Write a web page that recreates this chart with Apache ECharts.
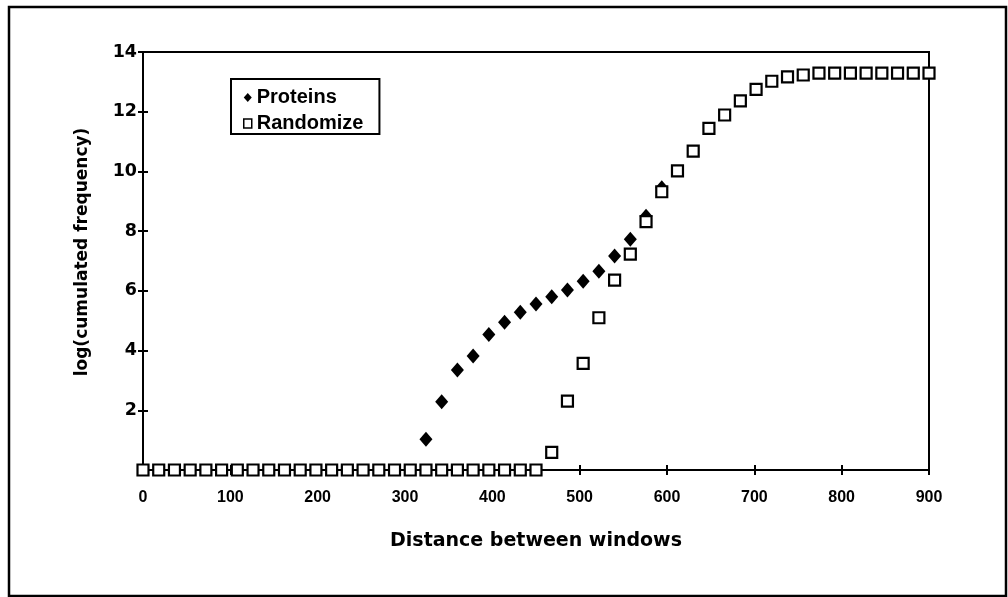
<!DOCTYPE html>
<html>
<head>
<meta charset="utf-8">
<script src="https://cdn.jsdelivr.net/npm/echarts@6/dist/echarts.min.js"></script>
<style>
html,body{margin:0;padding:0;background:#fff;}
#chart{width:1008px;height:597px;}
</style>
</head>
<body>
<div id="chart"></div>
<script>
// ---- data ----
var proteinsX = [324, 342, 360, 378, 396, 414, 432, 450, 468, 486, 504, 522, 540, 558, 576, 594];
var proteinsY = [1.03, 2.29, 3.35, 3.82, 4.54, 4.95, 5.28, 5.56, 5.80, 6.03, 6.32, 6.66, 7.17, 7.73, 8.50, 9.45];

var randomizeX = [0, 18, 36, 54, 72, 90, 108, 126, 144, 162, 180, 198, 216, 234, 252, 270, 288, 306, 324, 342,
  360, 378, 396, 414, 432, 450, 468, 486, 504, 522, 540, 558, 576, 594, 612, 630, 648, 666, 684, 702,
  720, 738, 756, 774, 792, 810, 828, 846, 864, 882, 900];
var randomizeY = [0, 0, 0, 0, 0, 0, 0, 0, 0, 0, 0, 0, 0, 0, 0, 0, 0, 0, 0, 0,
  0, 0, 0, 0, 0, 0, 0.59, 2.31, 3.57, 5.10, 6.36, 7.23, 8.32, 9.32, 10.02, 10.68, 11.44, 11.89, 12.36, 12.75,
  13.02, 13.17, 13.23, 13.29, 13.29, 13.29, 13.29, 13.29, 13.29, 13.29, 13.29];

var seriesNames = ['Proteins', 'Randomize'];
var xTitle = 'Distance between windows';
var yTitle = 'log(cumulated frequency)';

function pairs(xs, ys) { return xs.map(function (x, i) { return [x, ys[i]]; }); }

var chart = echarts.init(document.getElementById('chart'), null, { renderer: 'canvas' });

chart.setOption({
  backgroundColor: '#fff',
  animation: false,
  graphic: [{
    type: 'rect',
    shape: { x: 9, y: 7, width: 997, height: 589 },
    style: { fill: null, stroke: '#000', lineWidth: 2.5 },
    silent: true, z: -1
  }],
  grid: {
    left: 143, right: 79, top: 52, bottom: 127,
    show: true, borderColor: '#000', borderWidth: 2, backgroundColor: 'transparent'
  },
  legend: {
    orient: 'vertical',
    left: 231, top: 79,
    padding: [8, 16, 0, 12],
    itemGap: 5,
    itemWidth: 8, itemHeight: 9,
    borderColor: '#000', borderWidth: 2,
    textStyle: { fontFamily: 'Liberation Sans', fontWeight: 'bold', fontSize: 20, color: '#000', lineHeight: 21 },
    data: [
      { name: seriesNames[0], icon: 'diamond', itemStyle: { color: '#000', borderWidth: 0 } },
      { name: seriesNames[1], icon: 'rect', itemStyle: { color: '#fff', borderColor: '#000', borderWidth: 1.5 } }
    ]
  },
  xAxis: [{
    type: 'value', min: 0, max: 900, interval: 100, position: 'bottom',
    name: xTitle, nameLocation: 'middle', nameGap: 62,
    nameTextStyle: { fontFamily: 'DejaVu Sans', fontWeight: 'bold', fontSize: 19, color: '#000' },
    axisLine: { show: true, onZero: false, lineStyle: { color: '#000', width: 2 } },
    axisTick: { show: true, inside: false, length: 5, lineStyle: { color: '#000', width: 2 } },
    axisLabel: { margin: 20, fontFamily: 'Liberation Sans', fontWeight: 'bold', fontSize: 16, color: '#000' },
    splitLine: { show: false }
  }, {
    type: 'value', min: 0, max: 900, interval: 100, position: 'bottom',
    axisLine: { show: false },
    axisTick: { show: true, inside: true, length: 5, lineStyle: { color: '#000', width: 2 } },
    axisLabel: { show: false },
    splitLine: { show: false }
  }],
  yAxis: [{
    type: 'value', min: 0, max: 14, interval: 2, position: 'left',
    name: yTitle, nameLocation: 'middle', nameGap: 52, nameRotate: 90,
    nameTextStyle: { fontFamily: 'DejaVu Sans', fontWeight: 'bold', fontSize: 17, color: '#000', padding: [0, 0, 0, 18] },
    axisLine: { show: true, onZero: false, lineStyle: { color: '#000', width: 2 } },
    axisTick: { show: true, inside: false, length: 5, lineStyle: { color: '#000', width: 2 } },
    axisLabel: {
      margin: 6, fontFamily: 'DejaVu Sans', fontWeight: 'bold', fontSize: 17.5, color: '#000',
      formatter: function (v) { return v === 0 ? '' : String(v); }
    },
    splitLine: { show: false }
  }, {
    type: 'value', min: 0, max: 14, interval: 2, position: 'left',
    axisLine: { show: false },
    axisTick: { show: true, inside: true, length: 5, lineStyle: { color: '#000', width: 2 } },
    axisLabel: { show: false },
    splitLine: { show: false }
  }],
  series: [{
    name: seriesNames[0], type: 'scatter', xAxisIndex: 0, yAxisIndex: 0,
    symbol: 'diamond', symbolSize: [13, 15], clip: false,
    itemStyle: { color: '#000', opacity: 1 },
    data: pairs(proteinsX, proteinsY), z: 3
  }, {
    name: seriesNames[1], type: 'scatter', xAxisIndex: 0, yAxisIndex: 0,
    symbol: 'rect', symbolSize: 11, clip: false,
    itemStyle: { color: '#fff', borderColor: '#000', borderWidth: 2.2, opacity: 1 },
    data: pairs(randomizeX, randomizeY), z: 4
  }]
});
</script>
</body>
</html>
